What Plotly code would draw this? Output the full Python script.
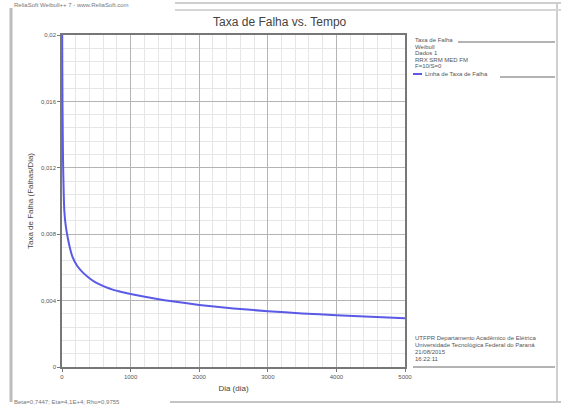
import plotly.graph_objects as go

# Failure-rate curve (Weibull, decreasing hazard) read at selected times
tempo_dias = [2, 4, 8, 15, 34, 55, 83, 120, 156, 220, 302, 400, 496, 620, 739,
              870, 1000, 1370, 1633, 2000, 2500, 3000, 3500, 4000, 4500, 5000]
taxa_falha = [0.0215, 0.0185, 0.0155, 0.0125, 0.0094, 0.0085, 0.0078, 0.0071,
              0.0066, 0.0061, 0.0057, 0.00535, 0.00508, 0.00484, 0.00466,
              0.00452, 0.0044, 0.00411, 0.00394, 0.00374, 0.00353, 0.00336,
              0.00323, 0.00312, 0.00302, 0.00293]

x_ticks = [0, 1000, 2000, 3000, 4000, 5000]
x_labels = ["0", "1000", "2000", "3000", "4000", "5000"]
y_ticks = [0, 0.004, 0.008, 0.012, 0.016, 0.02]
y_labels = ["0", "0,004", "0,008", "0,012", "0,016", "0,02"]

legenda = ["Taxa de Falha", "Weibull", "Dados 1", "RRX SRM MED FM", "F=10/S=0"]
rodape = ["UTFPR Departamento Acadêmico de Elétrica",
          "Universidade Tecnológica Federal do Paraná",
          "21/08/2015", "16:22:11"]

W, H = 561, 407
L, R, T, B = 62, 405, 35, 367
FONT = "Liberation Sans"
GRAY = "#555555"


def px(x):
    return (x - L) / (R - L)


def py(y):
    return (B - y) / (B - T)


fig = go.Figure()
fig.add_trace(go.Scatter(
    x=tempo_dias, y=taxa_falha, mode="lines",
    line=dict(color="#5a5ae6", width=2, shape="spline", smoothing=0.6),
    showlegend=False, hoverinfo="x+y"))

shapes = []


def hline(x0, x1, y, color="#b4b4b4", width=1):
    shapes.append(dict(type="line", xref="paper", yref="paper",
                       x0=px(x0), x1=px(x1), y0=py(y), y1=py(y),
                       line=dict(color=color, width=width)))


def vline(x, y0, y1, color="#b4b4b4", width=1):
    shapes.append(dict(type="line", xref="paper", yref="paper",
                       x0=px(x), x1=px(x), y0=py(y0), y1=py(y1),
                       line=dict(color=color, width=width)))


# page frame
vline(11, 8, 402, "#bdbdbd", 3)
vline(557, 2, 402, "#cfcfcf", 2)
hline(175, 561, 3, "#cfcfcf", 2)
hline(175, 561, 10, "#d6d6d6", 2)
hline(170, 561, 402, "#c4c4c4", 2)
# side panel separators
hline(458, 555, 42, "#9a9a9a", 1.5)
hline(500, 555, 77, "#9a9a9a", 1.5)
hline(413, 555, 367, "#9a9a9a", 1.5)
# legend line sample
hline(413, 422, 74, "#5a5ae6", 2)

ann = []


def text(x, y, s, size=6, color=GRAY, anchor="left", **kw):
    ann.append(dict(xref="paper", yref="paper", x=px(x), y=py(y), text=s,
                    showarrow=False, xanchor=anchor, yanchor="middle",
                    font=dict(family=FONT, size=size, color=color), **kw))


text(12, 5, "ReliaSoft Weibull++ 7 - www.ReliaSoft.com", 6, "#777777")
text(12, 402, "Beta=0,7447; Eta=4,1E+4; Rho=0,9755", 6, "#777777")
for i, s in enumerate(legenda):
    text(413, 40 + i * 6.5, s)
text(423, 74, "Linha de Taxa de Falha")
for i, s in enumerate(rodape):
    text(413, 338 + i * 7, s)

fig.update_layout(
    width=W, height=H,
    margin=dict(l=L, r=W - R, t=T, b=H - B, pad=0),
    paper_bgcolor="white", plot_bgcolor="white",
    title=dict(text="Taxa de Falha vs. Tempo", x=px(233), xanchor="center",
               y=1 - 22 / H, yanchor="middle",
               font=dict(family=FONT, size=12, color="#444444")),
    font=dict(family=FONT, color=GRAY),
    shapes=shapes, annotations=ann,
    xaxis=dict(range=[0, 5000], tickvals=x_ticks, ticktext=x_labels,
               tickfont=dict(size=6, color=GRAY), ticks="outside", ticklen=3,
               tickcolor="#777777",
               showgrid=True, gridcolor="#b4b4b4", gridwidth=1,
               minor=dict(dtick=200, showgrid=True, gridcolor="#e6e6e6"),
               showline=True, linecolor="#777777", linewidth=1.5, mirror=True,
               zeroline=False,
               title=dict(text="Dia (dia)", standoff=6,
                          font=dict(size=8, color="#444444"))),
    yaxis=dict(range=[0, 0.02], tickvals=y_ticks, ticktext=y_labels,
               tickfont=dict(size=6, color=GRAY), ticks="outside", ticklen=3,
               tickcolor="#777777",
               showgrid=True, gridcolor="#b4b4b4", gridwidth=1,
               minor=dict(dtick=0.0008, showgrid=True, gridcolor="#e6e6e6"),
               showline=True, linecolor="#777777", linewidth=1.5, mirror=True,
               zeroline=False,
               title=dict(text="Taxa de Falha (Falhas/Dia)", standoff=6,
                          font=dict(size=8, color="#444444"))),
)

fig.write_html("out.html")
